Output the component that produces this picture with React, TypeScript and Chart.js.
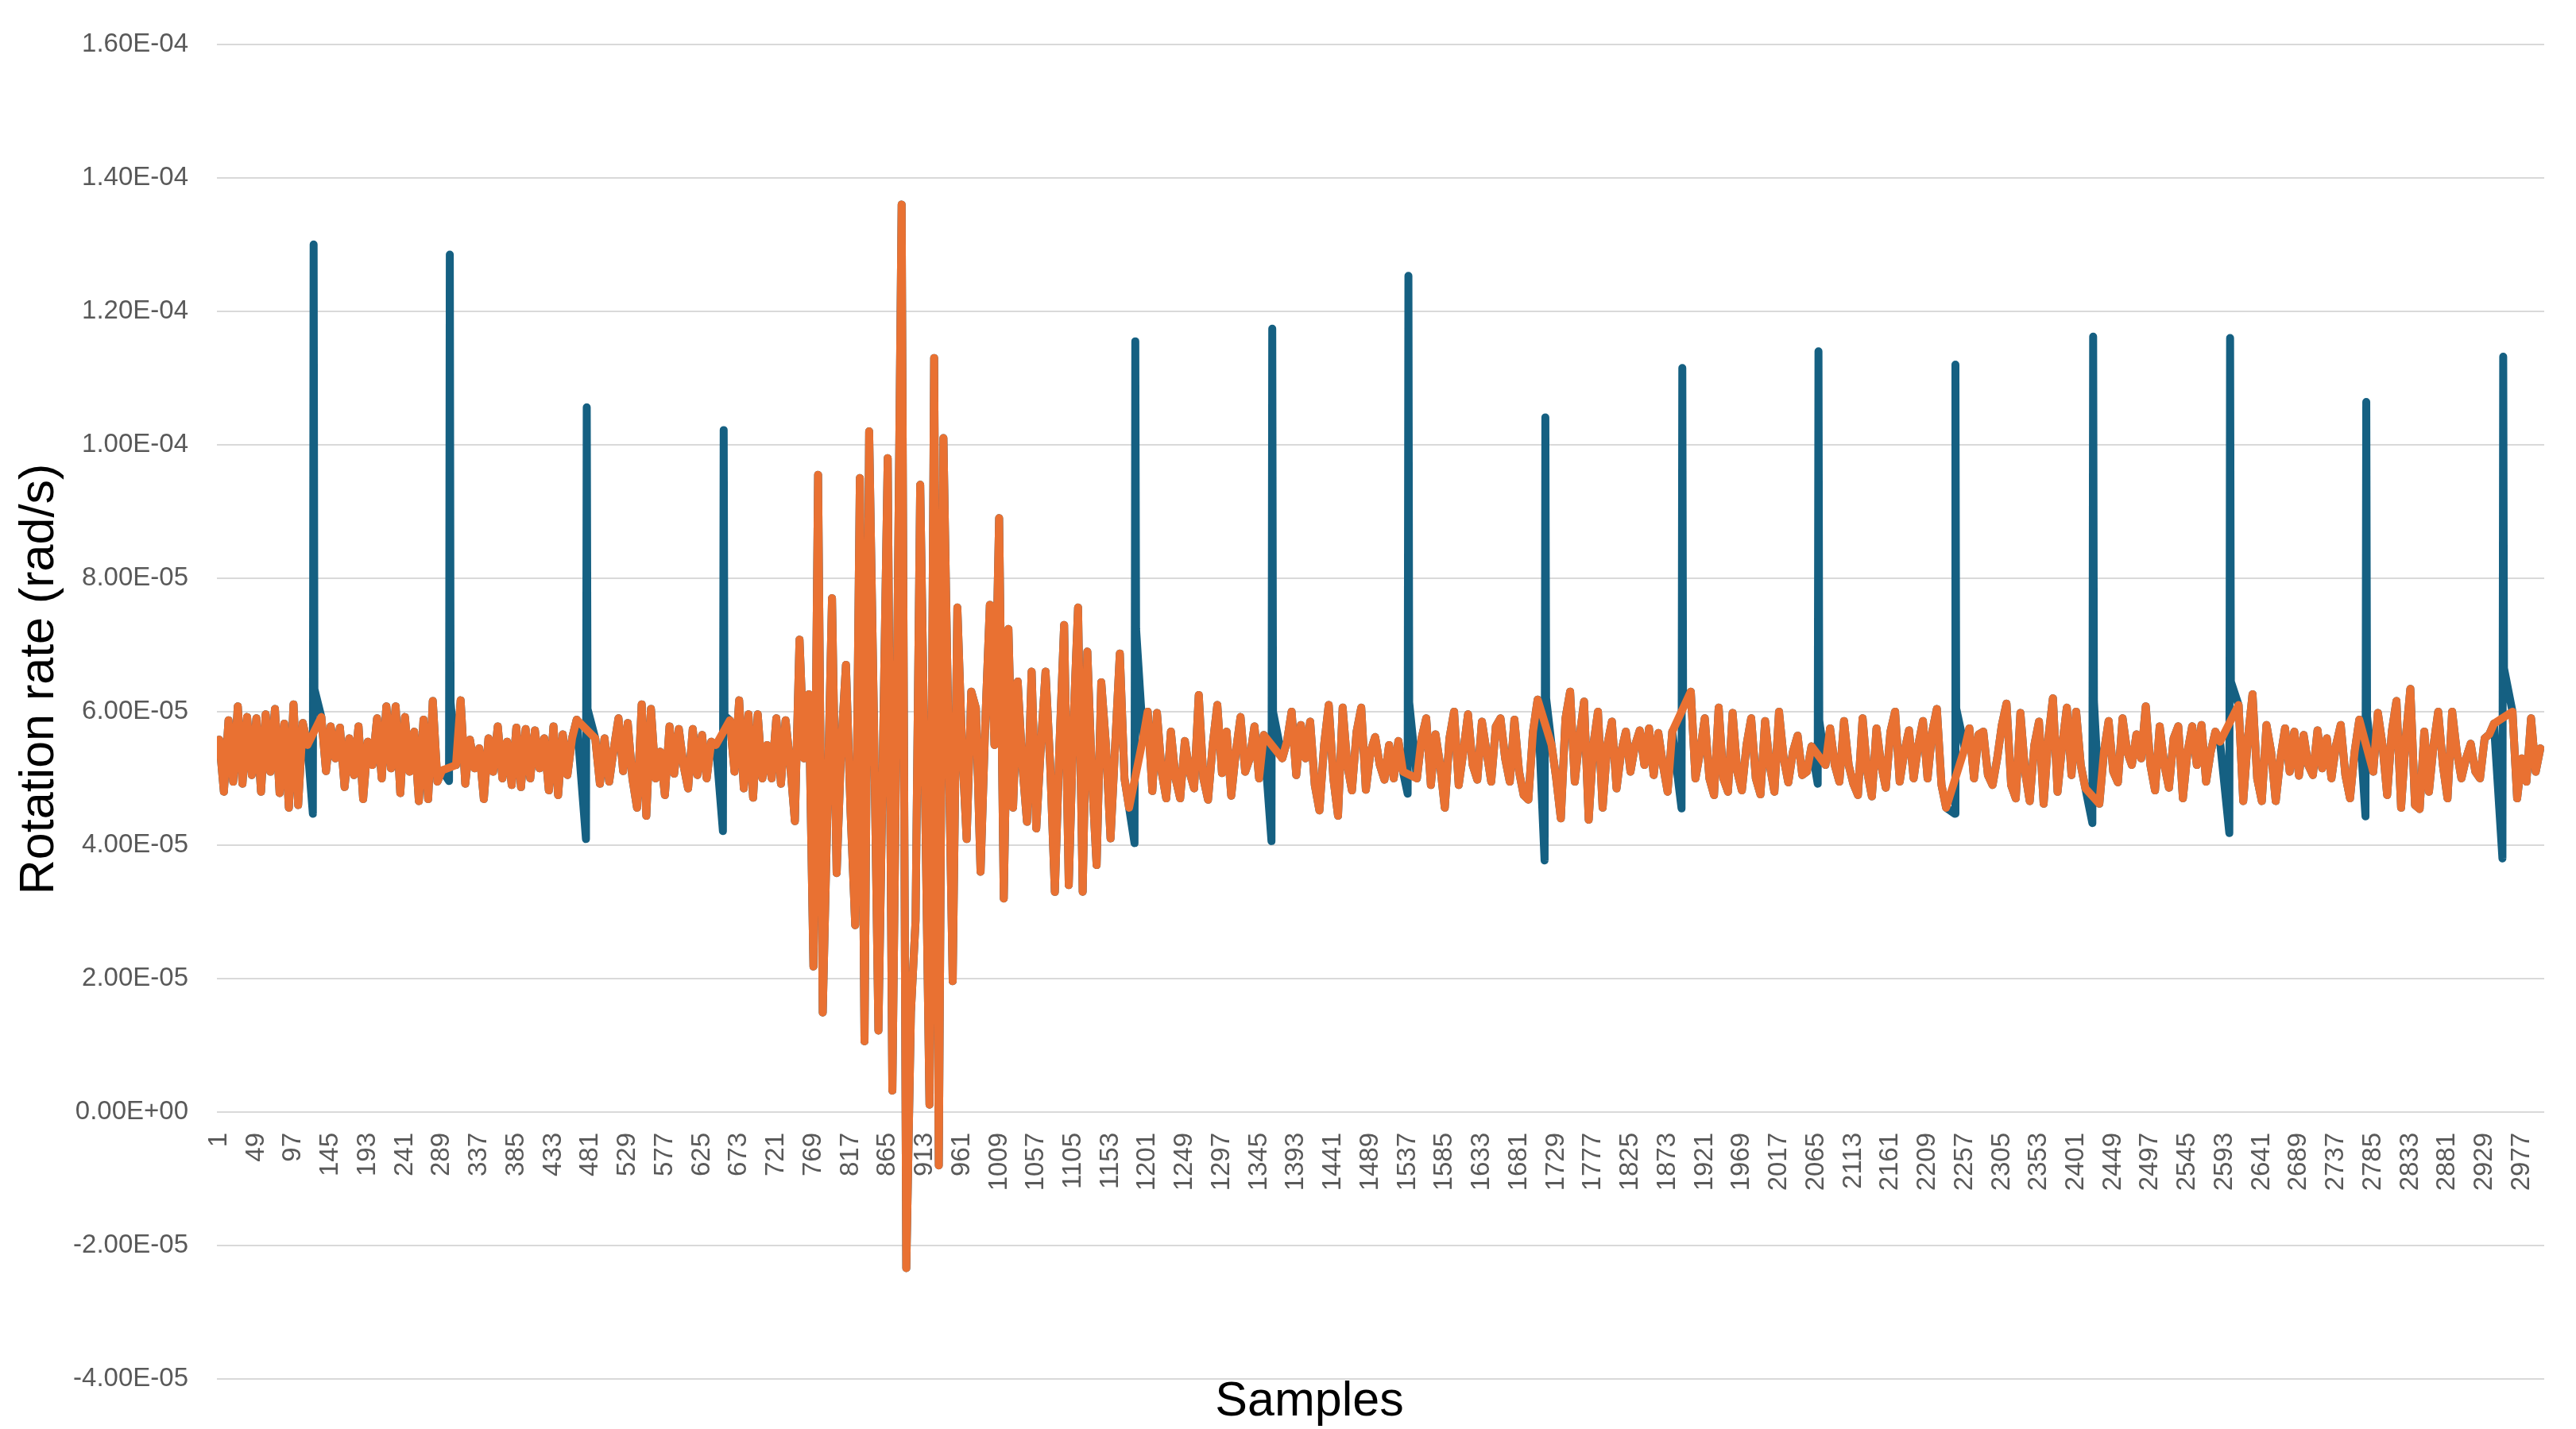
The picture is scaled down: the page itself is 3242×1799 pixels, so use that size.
import { useEffect, useRef } from 'react';
import { Chart, registerables } from 'chart.js';

Chart.register(...registerables);

const FONT = '"Liberation Sans", Arial, sans-serif';
const BLUE = '#156082';
const ORANGE = '#E97132';
const TICK_GREY = '#595959';
const LINE_WIDTH = 10;

// rotation rate in units of 1e-5 rad/s; one value every SAMPLE_STEP samples, starting at sample 1
const SAMPLE_STEP = 6;

// filtered signal (orange). null = spike window that the filter bridged with a straight line
const orangeRate: (number | null)[] = [
  5.58, 4.80, 5.87, 4.95, 6.08, 4.92, 5.92, 5.05, 5.90, 4.80, // 0
  5.96, 5.10, 6.04, 4.78, 5.82, 4.56, 6.11, 4.60, 5.83, 5.50, // 10
  null, null, 5.92, 5.11, 5.78, 5.30, 5.76, 4.87, 5.60, 5.05, // 20
  5.78, 4.69, 5.55, 5.20, 5.90, 5.00, 6.08, 5.15, 6.08, 4.78, // 30
  5.92, 5.10, 5.70, 4.66, 5.88, 4.69, 6.16, 4.95, 5.12, null, // 40
  null, 5.20, 6.17, 4.92, 5.58, 5.15, 5.45, 4.69, 5.60, 5.10, // 50
  5.78, 5.00, 5.55, 4.90, 5.76, 4.87, 5.74, 5.00, 5.72, 5.15, // 60
  5.60, 4.82, 5.78, 4.75, 5.66, 5.05, 5.60, 5.88, null, null, // 70
  null, 5.60, 4.92, 5.60, 4.95, 5.45, 5.90, 5.11, 5.83, 5.00, // 80
  4.56, 6.11, 4.44, 6.04, 5.00, 5.40, 4.75, 5.78, 5.07, 5.74, // 90
  5.20, 4.85, 5.74, 5.05, 5.65, 5.00, 5.55, 5.50, null, null, // 100
  5.87, 5.10, 6.17, 4.85, 5.96, 4.71, 5.96, 5.00, 5.50, 5.00, // 110
  5.90, 4.92, 5.87, 5.20, 4.36, 7.08, 5.30, 6.26, 2.18, 9.55, // 120
  1.49, 4.50, 7.70, 3.58, 5.50, 6.70, 4.50, 2.80, 9.50, 1.06, // 130
  10.20, 6.00, 1.22, 5.50, 9.80, 0.32, 6.50, 13.60, -2.34, 1.50, // 140
  2.87, 9.40, 5.00, 0.11, 11.30, -0.80, 10.10, 6.00, 1.96, 7.56, // 150
  5.50, 4.09, 6.30, 6.05, 3.60, 5.80, 7.60, 5.50, 8.90, 3.20, // 160
  7.24, 4.56, 6.45, 5.20, 4.35, 6.60, 4.25, 5.50, 6.60, 5.20, // 170
  3.30, 5.50, 7.30, 3.40, 5.80, 7.56, 3.30, 6.90, 5.00, 3.70, // 180
  6.44, 5.50, 4.10, 5.50, 6.87, 5.00, 4.56, null, null, 5.60, // 190
  6.00, 4.81, 5.98, 5.10, 4.70, 5.70, 5.00, 4.70, 5.56, 5.10, // 200
  4.85, 6.25, 5.00, 4.68, 5.50, 6.10, 5.08, 5.70, 4.74, 5.40, // 210
  5.92, 5.10, 5.30, 5.78, 5.00, 5.65, null, null, null, 5.30, // 220
  5.55, 6.00, 5.05, 5.80, 5.30, 5.85, 4.90, 4.52, 5.50, 6.10, // 230
  5.00, 4.44, 6.06, 5.20, 4.82, 5.70, 6.06, 4.83, 5.40, 5.62, // 240
  5.20, 4.98, 5.50, 5.00, 5.56, 5.10, null, null, 5.00, 5.60, // 250
  5.90, 4.90, 5.66, 5.20, 4.56, 5.60, 6.00, 4.90, 5.40, 5.96, // 260
  5.20, 4.98, 5.85, 5.40, 4.95, 5.78, 5.90, 5.30, 4.95, 5.88, // 270
  5.10, 4.75, 4.68, 5.70, 6.18, null, null, 5.50, 5.00, 4.40, // 280
  5.90, 6.30, 4.95, 5.60, 6.15, 4.38, 5.50, 6.00, 4.56, 5.50, // 290
  5.85, 4.85, 5.40, 5.70, 5.10, 5.50, 5.72, 5.20, 5.75, 5.05, // 300
  5.68, 5.20, 4.80, 5.70, null, null, null, 6.30, 5.00, 5.40, // 310
  5.90, 5.00, 4.75, 6.06, 5.00, 4.80, 5.98, 5.10, 4.82, 5.50, // 320
  5.90, 5.00, 4.76, 5.86, 5.20, 4.80, 6.00, 5.30, 4.94, 5.40, // 330
  5.64, 5.05, 5.10, 5.48, null, null, 5.20, 5.75, 5.20, 4.95, // 340
  5.86, 5.20, 4.92, 4.75, 5.90, 5.10, 4.73, 5.75, 5.20, 4.86, // 350
  5.70, 6.00, 4.95, 5.40, 5.72, 5.00, 5.50, 5.86, 5.00, 5.70, // 360
  6.04, 4.90, 4.56, null, null, null, 5.45, 5.75, 5.00, 5.66, // 370
  5.70, 5.05, 4.90, 5.30, 5.80, 6.12, 4.90, 4.70, 5.98, 5.10, // 380
  4.66, 5.50, 5.85, 4.62, 5.60, 6.20, 4.80, 5.50, 6.06, 5.05, // 390
  6.00, 5.20, 4.85, null, null, 4.62, 5.40, 5.86, 5.10, 4.94, // 400
  5.90, 5.40, 5.20, 5.66, 5.30, 6.08, 5.20, 4.82, 5.78, 5.20, // 410
  4.86, 5.60, 5.78, 4.70, 5.40, 5.78, 5.20, 5.80, 4.95, 5.40, // 420
  5.70, 5.55, null, null, null, 6.10, 4.66, 5.60, 6.26, 5.00, // 430
  4.66, 5.80, 5.40, 4.66, 5.30, 5.75, 5.10, 5.70, 5.04, 5.65, // 440
  5.20, 5.05, 5.72, 5.15, 5.60, 5.00, 5.50, 5.80, 5.05, 4.70, // 450
  5.40, 5.88, null, null, 5.10, 5.98, 5.50, 4.75, 5.70, 6.16, // 460
  4.56, 5.60, 6.34, 4.60, 4.54, 5.70, 4.80, 5.50, 6.00, 5.20, // 470
  4.70, 6.00, 5.40, 5.00, 5.30, 5.52, 5.10, 5.00, 5.60, 5.66, // 480
  5.82, null, null, null, 6.00, 4.70, 5.30, 4.95, 5.90, 5.10, // 490
  5.45, // 500
];

// raw signal (blue) follows the filtered one except around the periodic spikes
const spikeSamples = [123, 299, 476, 653, 1185, 1362, 1538, 1715, 1892, 2068, 2245, 2423, 2600, 2776, 2953];
const spikeTops = [13.0, 12.85, 10.56, 10.22, 11.55, 11.74, 12.53, 10.41, 11.15, 11.4, 11.2, 11.62, 11.6, 10.64, 11.32];
const spikeDips = [4.47, 4.96, 4.09, 4.21, 4.03, 4.06, 4.77, 3.77, 4.55, 4.92, 4.47, 4.33, 4.18, 4.43, 3.8];
const spikeShoulders = [6.34, 6.14, 6.04, 5.94, 7.24, 6.0, 6.14, 6.2, 6.07, 5.87, 6.05, 6.16, 6.45, 5.93, 6.65];

const sampleTicks = [
  1, 49, 97, 145, 193, 241, 289, 337, 385, 433, 481, 529, 577, 625, 673, 721,
  769, 817, 865, 913, 961, 1009, 1057, 1105, 1153, 1201, 1249, 1297, 1345, 1393,
  1441, 1489, 1537, 1585, 1633, 1681, 1729, 1777, 1825, 1873, 1921, 1969, 2017,
  2065, 2113, 2161, 2209, 2257, 2305, 2353, 2401, 2449, 2497, 2545, 2593, 2641,
  2689, 2737, 2785, 2833, 2881, 2929, 2977,
];

function sci(v: number) {
  const [mant, exp] = (v * 1e-5).toExponential(2).split('e');
  const n = Math.abs(parseInt(exp, 10));
  return `${mant}E${exp[0] === '-' ? '-' : '+'}${String(n).padStart(2, '0')}`;
}

const axisTitles = {
  id: 'axisTitles',
  afterDraw(chart: Chart) {
    const { ctx } = chart;
    ctx.save();
    ctx.fillStyle = '#000';
    ctx.font = `61px ${FONT}`;
    ctx.textAlign = 'center';
    ctx.textBaseline = 'alphabetic';
    ctx.fillText('Samples', 1648, 1782);
    ctx.translate(67, 855);
    ctx.rotate(-Math.PI / 2);
    ctx.fillText('Rotation rate (rad/s)', 0, 0);
    ctx.restore();
  },
};

export default function App() {
  const canvasRef = useRef<HTMLCanvasElement>(null);

  useEffect(() => {
    if (!canvasRef.current) return;

    const orangePoints = orangeRate.map((y, i) => ({ x: 1 + i * SAMPLE_STEP, y }));
    const spikePoints = spikeSamples.flatMap((s, k) => [
      { x: s - 1, y: spikeDips[k] },
      { x: s, y: spikeTops[k] },
      { x: s + 1, y: spikeShoulders[k] },
    ]);
    const bluePoints = [...orangePoints.filter((p) => p.y !== null), ...spikePoints].sort((a, b) => a.x - b.x);

    const chart = new Chart(canvasRef.current, {
      type: 'line',
      data: {
        datasets: [
          {
            label: 'Filtered',
            data: orangePoints,
            borderColor: ORANGE,
            borderWidth: LINE_WIDTH,
            pointRadius: 0,
            tension: 0,
            spanGaps: true,
            borderJoinStyle: 'round',
            borderCapStyle: 'round',
            order: 0,
          },
          {
            label: 'Raw',
            data: bluePoints,
            borderColor: BLUE,
            borderWidth: LINE_WIDTH,
            pointRadius: 0,
            tension: 0,
            borderJoinStyle: 'round',
            borderCapStyle: 'round',
            order: 1,
          },
        ],
      },
      options: {
        animation: false,
        responsive: true,
        maintainAspectRatio: false,
        events: [],
        layout: { padding: { top: 48, right: 40, bottom: 63, left: 0 } },
        plugins: {
          legend: { display: false },
          tooltip: { enabled: false },
        },
        scales: {
          x: {
            type: 'linear',
            position: { y: 0 },
            min: -2,
            max: 3006,
            afterBuildTicks: (scale) => {
              scale.ticks = sampleTicks.map((value) => ({ value }));
            },
            afterFit: (scale) => {
              scale.height = 0;
            },
            grid: { display: false },
            border: { display: false },
            ticks: {
              autoSkip: false,
              minRotation: 90,
              maxRotation: 90,
              padding: 18,
              color: TICK_GREY,
              font: { family: FONT, size: 33 },
              callback: (value) => String(value),
            },
          },
          y: {
            type: 'linear',
            min: -4,
            max: 16,
            afterFit: (scale) => {
              scale.width = 273;
            },
            grid: { color: '#d9d9d9', lineWidth: 2, drawTicks: false },
            border: { display: false },
            ticks: {
              stepSize: 2,
              padding: 36,
              color: TICK_GREY,
              font: { family: FONT, size: 33 },
              callback: (value) => sci(Number(value)),
            },
          },
        },
      },
      plugins: [axisTitles],
    });

    return () => chart.destroy();
  }, []);

  return (
    <div style={{ position: 'fixed', inset: 0, background: '#fff' }}>
      <canvas ref={canvasRef} />
    </div>
  );
}
